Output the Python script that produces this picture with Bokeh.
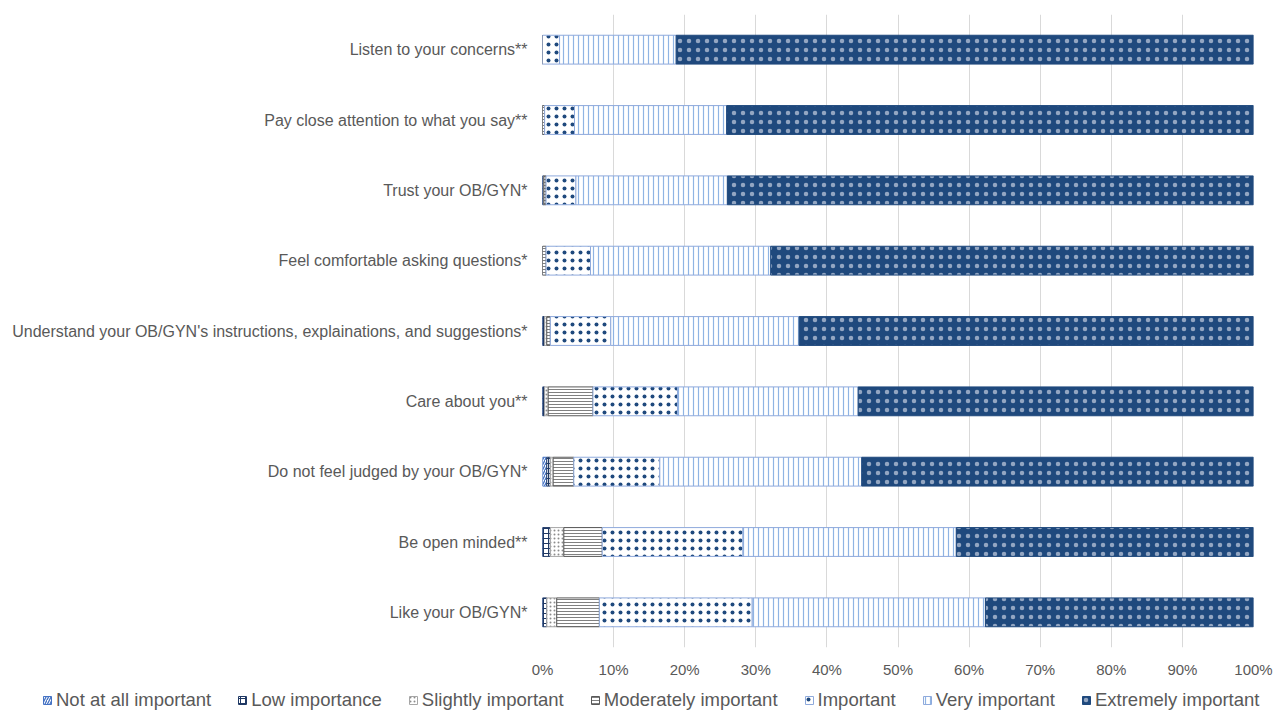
from bokeh.plotting import figure
from bokeh.layouts import column
from bokeh.models import (FactorRange, Range1d, PrintfTickFormatter, Legend, LegendItem,
                          FixedTicker)
from bokeh.embed import file_html
from bokeh.resources import INLINE

categories = [
    "Listen to your concerns**",
    "Pay close attention to what you say**",
    "Trust your OB/GYN*",
    "Feel comfortable asking questions*",
    "Understand your OB/GYN's instructions, explainations, and suggestions*",
    "Care about you**",
    "Do not feel judged by your OB/GYN*",
    "Be open minded**",
    "Like your OB/GYN*",
]
series = ["Not at all important", "Low importance", "Slightly important",
          "Moderately important", "Important", "Very important", "Extremely important"]

not_at_all = [0.0, 0.0, 0.0, 0.0, 0.0, 0.0, 0.6, 0.0, 0.0]
low = [0.0, 0.0, 0.2, 0.0, 0.3, 0.3, 0.5, 1.1, 0.6]
slight = [0.0, 0.0, 0.0, 0.0, 0.3, 0.5, 0.4, 1.9, 1.4]
moderate = [0.0, 0.3, 0.3, 0.5, 0.5, 6.3, 2.9, 5.4, 6.0]
important = [2.4, 4.2, 4.2, 6.25, 8.5, 11.9, 12.1, 19.8, 21.5]
very = [16.4, 21.4, 21.3, 25.35, 26.5, 25.4, 28.4, 30.0, 32.8]
extremely = [81.2, 74.1, 74.0, 67.9, 63.9, 55.6, 55.1, 41.8, 37.7]

x_ticks = [0, 10, 20, 30, 40, 50, 60, 70, 80, 90, 100]

data = {"cat": categories}
for name, vals in zip(series, [not_at_all, low, slight, moderate, important, very, extremely]):
    data[name] = vals

FONT = "Liberation Sans"
GREY = "#595959"

style = dict(
    fill_color=["white", "white", "white", "white", "white", "white", "#1F497D"],
    line_color=["#4472C4", "#1F3864", "#A6A6A6", "#595959", "#8FAADC", "#8FAADC", "#1F497D"],
    hatch_pattern=["/", "+", ".", "-", ".", "|", "."],
    hatch_color=["#4472C4", "#1F3864", "#8C8C8C", "#808080", "#1F497D", "#8FB4E3", "#93A6C2"],
    hatch_scale=[5, 5, 4, 3, 8, 5, 9],
    hatch_weight=[1.3, 1, 1, 1, 3.0, 1.2, 0.1],
)

p = figure(width=1273, height=680, output_backend="svg", toolbar_location=None,
           y_range=FactorRange(*categories[::-1], range_padding=0),
           x_range=Range1d(0, 100), frame_align=False,
           min_border_left=542, min_border_right=20, min_border_top=14, min_border_bottom=28)

p.hbar_stack(series, y="cat", height=0.41, source=data, line_width=1, **style)

p.xaxis.ticker = FixedTicker(ticks=x_ticks)
p.xaxis.formatter = PrintfTickFormatter(format="%d%%")
p.xaxis.axis_line_color = None
p.xaxis.major_tick_line_color = None
p.xaxis.minor_tick_line_color = None
p.xaxis.major_tick_out = 0
p.xaxis.major_label_standoff = 13
p.xaxis.major_label_text_font = FONT
p.xaxis.major_label_text_font_size = "15px"
p.xaxis.major_label_text_color = GREY

p.yaxis.axis_line_color = None
p.yaxis.major_tick_line_color = None
p.yaxis.minor_tick_line_color = None
p.yaxis.major_tick_out = 0
p.yaxis.major_label_standoff = 15
p.yaxis.major_label_text_font = FONT
p.yaxis.major_label_text_font_size = "16px"
p.yaxis.major_label_text_color = GREY

p.xgrid.grid_line_color = "#D9D9D9"
p.xgrid.ticker = FixedTicker(ticks=x_ticks)
p.ygrid.grid_line_color = None
p.outline_line_color = None

# legend strip below the chart (its bars fall outside its range, only the swatches show)
lg = figure(width=1273, height=31, output_backend="svg", toolbar_location=None,
            x_range=Range1d(0, 100), y_range=FactorRange("legend"),
            x_axis_type=None, y_axis_type=None, frame_align=False,
            min_border=0, min_border_left=0, min_border_right=0,
            min_border_top=0, min_border_bottom=0)
lg.grid.visible = False
lg.outline_line_color = None
lg_renderers = lg.hbar_stack(series, y="cat", height=0.41, source=data, line_width=1, **style)

legend = Legend(items=[LegendItem(label=s, renderers=[r]) for s, r in zip(series, lg_renderers)],
                orientation="horizontal", location=(42, 0),
                glyph_width=10, glyph_height=10, label_height=18, label_standoff=4,
                spacing=26, padding=0, margin=0, border_line_color=None,
                background_fill_alpha=0,
                label_text_font=FONT, label_text_font_size="18.5px",
                label_text_color=GREY)
lg.add_layout(legend, "center")

layout = column(p, lg, spacing=0)
open("out.html", "w").write(file_html(layout, INLINE))
